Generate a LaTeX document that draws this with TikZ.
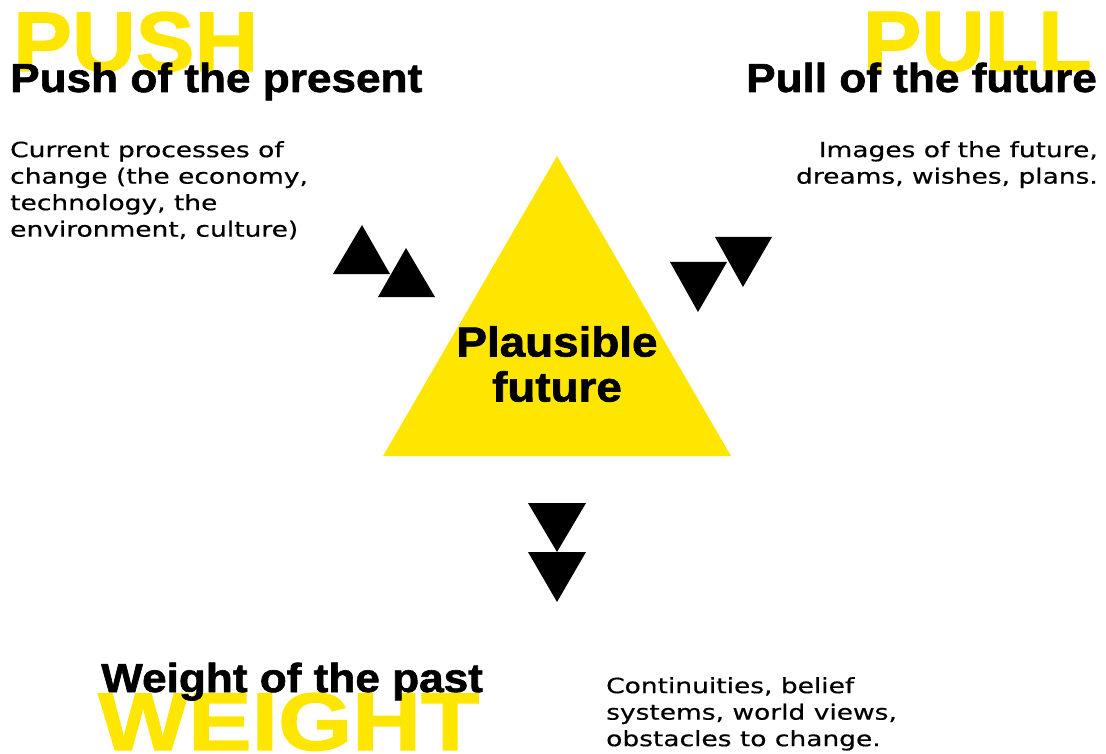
\documentclass[tikz,border=0pt]{standalone}
\usepackage{fontspec}
\setmainfont{DejaVu Sans}[FakeStretch=1.26, FakeBold=0.5]
\newfontfamily\headfont{Liberation Sans}[UprightFont={* Bold}, FakeStretch=1.09, FakeBold=1.5]
\definecolor{futureyellow}{HTML}{FFE600}
\tikzset{
  big/.style={inner sep=0pt, text=futureyellow, font=\headfont},
  head/.style={inner sep=0pt, font=\headfont\fontsize{40.5}{40}\selectfont},
  body/.style={inner sep=0pt, font=\fontsize{21}{26.5}\selectfont},
  arrowhead/.style={fill=black}
}

\begin{document}
\begin{tikzpicture}[x=1pt,y=-1pt]
 \useasboundingbox (0,0) rectangle (1106,754);
 % the plausible future
 \fill[futureyellow] (383,456) -- (557,156) -- (731,456) -- cycle;
 \node[head, font=\headfont\fontsize{42}{45}\selectfont, align=center] (plausible) at (557,364) {Plausible\\future};
 % push of the present
 \node[big, anchor=base west] (push) at (13,71) {\resizebox{245pt}{59pt}{PUSH}};
 \node[head, anchor=base west] (pushtitle) at (10,92) {Push of the present};
 \node[body, align=left, anchor=north west] (pushtext) at (10,141) {Current processes of\\change (the economy,\\technology, the\\environment, culture)};
 \fill[arrowhead] (333,274) -- (362,225) -- (390,274) -- cycle;
 \fill[arrowhead] (378,297) -- (406,248) -- (435,297) -- cycle;
 % pull of the future
 \node[big, anchor=base east] (pull) at (1092,71) {\resizebox{229pt}{59pt}{PULL}};
 \node[head, anchor=base east] (pulltitle) at (1097,92) {Pull of the future};
 \node[body, align=right, anchor=north east] (pulltext) at (1098,141) {Images of the future,\\dreams, wishes, plans.};
 \fill[arrowhead] (670,262) -- (727,262) -- (698,312) -- cycle;
 \fill[arrowhead] (715,237) -- (772,237) -- (743,287) -- cycle;
 % weight of the past
 \fill[arrowhead] (528,503) -- (586,503) -- (557,552) -- cycle;
 \fill[arrowhead] (528,552) -- (586,552) -- (557,602) -- cycle;
 \node[big, anchor=base west] (weight) at (98,750) {\resizebox{381pt}{57pt}{WEIGHT}};
 \node[head, anchor=base west] (weighttitle) at (101,692) {Weight of the past};
 \node[body, align=left, anchor=north west] (weighttext) at (606,677) {Continuities, belief\\systems, world views,\\obstacles to change.};
\end{tikzpicture}
\end{document}
